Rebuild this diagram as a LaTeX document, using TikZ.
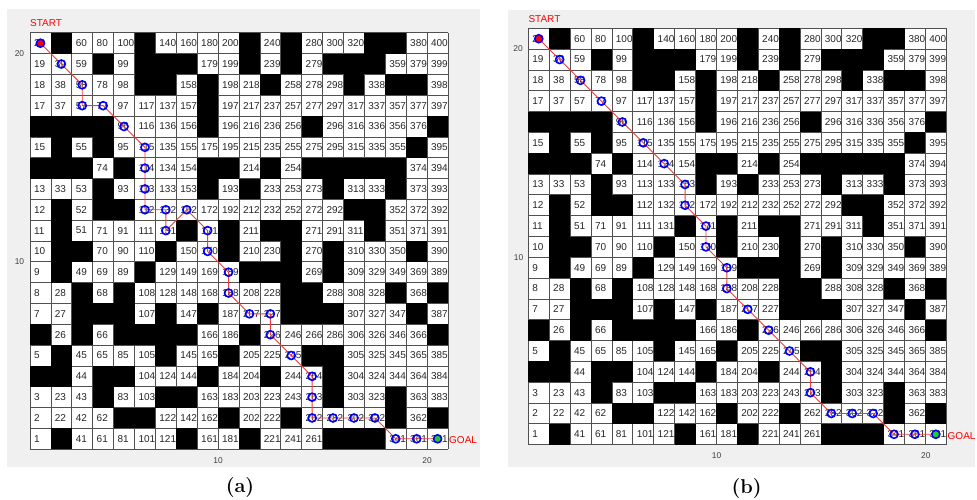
\documentclass[tikz,border=0pt]{standalone}
\usepackage{fontspec}
\newfontfamily\arialf{Liberation Sans}
\definecolor{figgrey}{HTML}{F0F0F0}
\definecolor{numcol}{HTML}{262626}
\definecolor{gridcol}{HTML}{505050}
\definecolor{pathred}{HTML}{F03C3C}
\definecolor{mblue}{HTML}{0000FF}
\definecolor{mgreen}{HTML}{22CC22}
\definecolor{mred}{HTML}{FF0000}
\definecolor{tickcol}{HTML}{404040}
\def\cw{20.9}
\def\ch{20.82}
\def\blacklist{40,120,220,260,340,360,79,119,139,159,219,259,299,319,339,118,138,178,238,318,358,378,177,16,36,56,76,176,276,396,35,75,375,14,34,54,94,174,194,234,274,294,314,334,354,73,173,213,293,353,32,72,92,312,332,31,151,191,231,251,331,30,50,130,190,250,290,370,29,109,209,229,249,289,48,88,248,268,348,388,47,67,87,127,167,247,267,287,367,6,46,86,106,126,146,206,386,25,125,185,265,285,4,24,64,84,164,224,284,63,123,143,283,343,82,102,182,242,342,382,21,141,201,281,301,321}
\tikzset{
  num/.style={anchor=west,inner sep=0pt,text=numcol,font=\arialf\fontsize{10}{12}\selectfont},
  gridline/.style={draw=gridcol,line width=0.8pt},
  pathline/.style={draw=pathred,line width=0.9pt},
  marker/.style={circle,draw=mblue,line width=1.6pt,minimum size=8pt,inner sep=0pt},
  redlbl/.style={inner sep=0pt,text=mred,font=\arialf\fontsize{10}{12}\selectfont},
  ticklbl/.style={inner sep=0pt,text=tickcol,font=\arialf\fontsize{8.4}{10}\selectfont},
  sublbl/.style={inner sep=0pt,font=\fontsize{20}{24}\selectfont\bfseries},
}
\newcommand\drawpanel[3]{%
  \fill[white] (#2,#3) rectangle ++(20*\cw,20*\ch);
  \foreach \ii in {0,...,20}{
    \draw[gridline] (#2+\ii*\cw,#3) -- ++(0,20*\ch);
    \draw[gridline] (#2,#3+\ii*\ch) -- ++(20*\cw,0);
  }
  \foreach \cc in {1,...,20}{\foreach \rr in {1,...,20}{
    \pgfmathtruncatemacro\nn{(\cc-1)*20+\rr}
    \pgfmathsetmacro\xl{#2+(\cc-1)*\cw}
    \pgfmathsetmacro\ym{#3+(20.5-\rr)*\ch}
    \coordinate (#1c\nn) at (\xl+\cw/2,\ym);
    \ifcsname blk\nn\endcsname
      \fill[black] (\xl,\ym-\ch/2) rectangle ++(\cw,\ch);
    \else
      \node[num] (#1n\nn) at (\xl+3.8,\ym) {\nn};
    \fi
  }}
}
\begin{document}
\foreach \nn in \blacklist {\expandafter\gdef\csname blk\nn\endcsname{}}
\begin{tikzpicture}[x=1pt,y=-1pt]
\useasboundingbox (0,0) rectangle (977,499);
\fill[white] (0,0) rectangle (977,499);
\fill[figgrey] (7,9) rectangle (480,467);
\fill[figgrey] (508,10) rectangle (975,467);
% panel (a)
\drawpanel{a}{30}{32.8}
\draw[pathline] (ac20) \foreach \p in {39,58,57,77,96,115,114,113,112,132,131,152,171,170,189,188,207,227,226,245,264,263,262,282,302,322,341,361,381}{ -- (ac\p)};
\foreach \p in {39,58,57,77,96,115,114,113,112,132,131,152,171,170,189,188,207,227,226,245,264,263,262,282,302,322,341,361}{\node[marker] (am\p) at (ac\p) {};}
\node[marker,fill=mred] (am20) at (ac20) {};
\node[marker,fill=mgreen] (am381) at (ac381) {};
\node[redlbl,anchor=west] (astart) at (30,23.3) {START};
\node[redlbl,anchor=west] (agoal) at (449,440) {GOAL};
\node[ticklbl] (ay20) at (19.5,53.6) {20};
\node[ticklbl] (ay10) at (19.5,261.8) {10};
\node[ticklbl] (ax10) at (218.1,460.5) {10};
\node[ticklbl] (ax20) at (427.1,460.5) {20};
\node[sublbl] (alab) at (240,487) {(a)};
% panel (b)
\drawpanel{b}{528.3}{28.3}
\draw[pathline] (bc20) \foreach \p in {39,58,77,96,115,134,153,152,171,170,189,188,207,226,245,264,263,282,302,322,341,361,381}{ -- (bc\p)};
\foreach \p in {39,58,77,96,115,134,153,152,171,170,189,188,207,226,245,264,263,282,302,322,341,361}{\node[marker] (bm\p) at (bc\p) {};}
\node[marker,fill=mred] (bm20) at (bc20) {};
\node[marker,fill=mgreen] (bm381) at (bc381) {};
\node[redlbl,anchor=west] (bstart) at (528.3,19) {START};
\node[redlbl,anchor=west] (bgoal) at (947.5,436) {GOAL};
\node[ticklbl] (by20) at (518,49.1) {20};
\node[ticklbl] (by10) at (518.5,257.5) {10};
\node[ticklbl] (bx10) at (716.6,455.8) {10};
\node[ticklbl] (bx20) at (925.8,455.8) {20};
\node[sublbl] (blab) at (746.7,488) {(b)};
\end{tikzpicture}
\end{document}
